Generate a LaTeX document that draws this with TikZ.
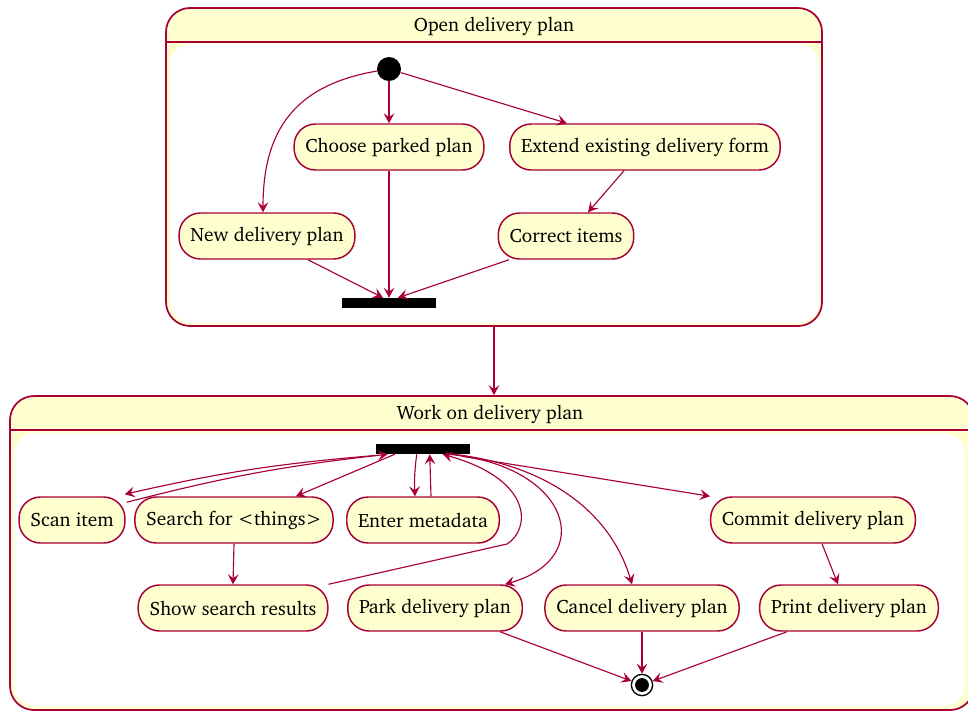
\documentclass[tikz,border=0pt]{standalone}
\usepackage[T1]{fontenc}
\usepackage{charter}
\usepackage{xcolor}
\usepackage{tikz}
\usetikzlibrary{positioning,calc,arrows.meta,shapes}

\definecolor{umlred}{HTML}{A80036}
\definecolor{umlfill}{HTML}{FEFECE}

\tikzset{
  activity/.style={draw=umlred, fill=umlfill, line width=1.1pt, rounded corners=16pt,
    minimum height=34.5pt, inner xsep=8.5pt, font=\fontsize{14.5}{17}\selectfont},
  container/.style={draw=umlred, fill=umlfill, line width=1.3pt, rounded corners=18pt},
  caption/.style={font=\fontsize{14.5}{17}\selectfont},
  startdot/.style={circle, fill=black, minimum size=18pt, inner sep=0pt},
  stopdot/.style={circle, draw=black, fill=white, line width=1pt, minimum size=16pt, inner sep=0pt,
    path picture={\fill[black] (path picture bounding box.center) circle (5.2pt);}},
  syncbar/.style={fill=black, minimum width=70.5pt, minimum height=7.5pt, inner sep=0pt},
  flow/.style={draw=umlred, line width=0.85pt, -{Stealth[length=7.5pt,width=8pt,inset=3pt]}},
}

\begin{document}
\begin{tikzpicture}[x=0.75pt, y=-0.75pt]
    \useasboundingbox (0,0) rectangle (968,711);

    % Open delivery plan
    \node[container, minimum width=492pt, minimum height=238.5pt] (openplan) at (494,167) {};
    \fill[white, rounded corners=16pt] (170,44) rectangle (819,323);
    \draw[umlred, line width=1.3pt] (openplan.west |- 0,42) -- (openplan.east |- 0,42);
    \node[caption] (opentitle) at (494,26) {Open delivery plan};

    \node[startdot] (start) at (389,69) {};
    \node[activity] (choose) at (389,147) {Choose parked plan};
    \node[activity] (extend) at (645,147) {Extend existing delivery form};
    \node[activity] (new) at (267,236) {New delivery plan};
    \node[activity] (correct) at (566,236) {Correct items};
    \node[syncbar] (joinbar) at (389,303) {};

    \draw[flow] (start) .. controls (295,85) and (263,130) .. ($(new.north)+(-4,0)$);
    \draw[flow] (start) -- (choose.north);
    \draw[flow] (start) -- ($(extend.north)+(-78,0)$);
    \draw[flow] ($(extend.south)+(-21,0)$) -- ($(correct.north)+(22,0)$);
    \draw[flow] ($(new.south)+(41,0)$) -- ($(joinbar.north)+(-6,0)$);
    \draw[flow] (choose.south) -- (joinbar.north);
    \draw[flow] ($(correct.south)+(-57,0)$) -- ($(joinbar.north)+(9,0)$);

    % Work on delivery plan
    \node[container, minimum width=723pt, minimum height=235.5pt] (workplan) at (492,553) {};
    \fill[white, rounded corners=16pt] (14,433) rectangle (965,706);
    \draw[umlred, line width=1.3pt] (workplan.west |- 0,430) -- (workplan.east |- 0,430);
    \node[caption] (worktitle) at (490,414) {Work on delivery plan};

    \draw[flow] (openplan.south) -- (openplan.south |- workplan.north);

    \node[syncbar] (forkbar) at (423,449) {};
    \node[activity] (scan) at (72,520) {Scan item};
    \node[activity] (search) at (234,520) {Search for <things>};
    \node[activity] (meta) at (423,520) {Enter metadata};
    \node[activity] (commit) at (813,520) {Commit delivery plan};
    \node[activity] (show) at (233,608) {Show search results};
    \node[activity] (park) at (435,608) {Park delivery plan};
    \node[activity] (cancel) at (642,608) {Cancel delivery plan};
    \node[activity] (print) at (849,608) {Print delivery plan};
    \node[stopdot] (stop) at (642,685) {};
    \coordinate (showbend) at (507,544);

    \draw[flow] ($(forkbar.south west)+(2,1)$) to[bend right=4] ($(scan.north east)+(-1,-2)$);
    \draw[flow] ($(scan.north east)+(1,6)$) to[bend left=4] ($(forkbar.south west)+(12,0)$);
    \draw[flow] ($(forkbar.south west)+(19,0)$) -- ($(search.north)+(62,0)$);
    \draw[flow] ($(forkbar.south west)+(41,0)$) to[bend right=5] ($(meta.north)+(-8,0)$);
    \draw[flow] ($(meta.north)+(8,0)$) -- ($(forkbar.south west)+(54,0)$);
    \draw[flow] (show.north east) -- (showbend) .. controls (530,530) and (535,480) .. ($(forkbar.south west)+(67,0)$);
    \draw[flow] ($(forkbar.south west)+(72,0)$) .. controls (570,465) and (598,558) .. ($(park.north east)+(-18,0)$);
    \draw[flow] ($(forkbar.south west)+(78,0)$) .. controls (545,465) and (610,510) .. ($(cancel.north)+(-10,0)$);
    \draw[flow] ($(forkbar.south west)+(86,2)$) -- (commit.north west);
    \draw[flow] (search.south) -- (show.north);
    \draw[flow] ($(commit.south)+(9,0)$) -- ($(print.north)+(-11,0)$);
    \draw[flow] ($(park.south)+(65,0)$) -- (stop);
    \draw[flow] (cancel.south) -- (stop);
    \draw[flow] ($(print.south west)+(28,0)$) -- (stop);
\end{tikzpicture}
\end{document}
